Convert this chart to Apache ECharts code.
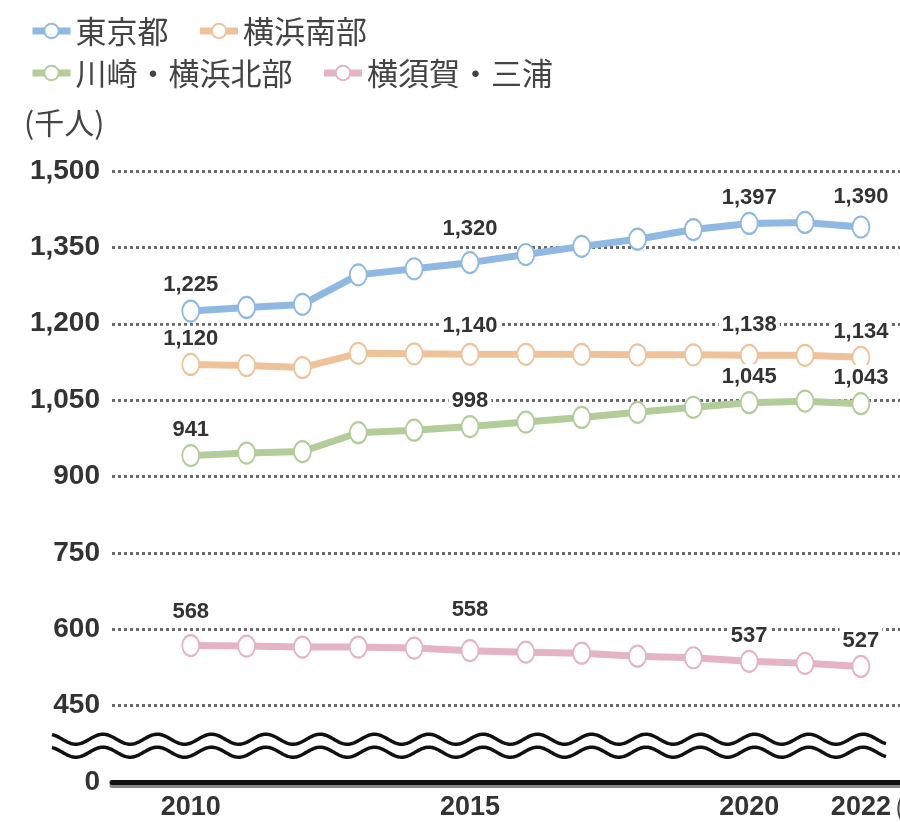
<!DOCTYPE html>
<html><head><meta charset="utf-8">
<script src="https://cdn.jsdelivr.net/npm/echarts@6/dist/echarts.min.js"></script>
<style>html,body{margin:0;padding:0;background:#fff}#chart{width:900px;height:822px}</style>
</head><body><div id="chart"></div>
<script>
const years = [2010,2011,2012,2013,2014,2015,2016,2017,2018,2019,2020,2021,2022];
const seriesNames = ['東京都','横浜南部','川崎・横浜北部','横須賀・三浦'];
const tokyo = [1225,1232,1238,1296,1308,1320,1336,1352,1366,1385,1397,1399,1390];
const yokohamaSouth = [1120,1118,1114,1142,1141,1140,1140,1140,1139,1139,1138,1138,1134];
const kawasakiNorth = [941,946,949,986,991,998,1007,1016,1026,1036,1045,1048,1043];
const yokosukaMiura = [568,567,565,565,563,558,555,553,547,544,537,533,527];
const labeledYears = [2010,2015,2020,2022];
const xTickLabels = [2010,2015,2020,2022];
const yTickValues = [300,450,600,750,900,1050,1200,1350,1500];
const yTickLabels = ['0','450','600','750','900','1,050','1,200','1,350','1,500'];
const colors = ['#8fb8e3','#eec39b','#b2cc9a','#e4b3c6'];

const seriesValues = [tokyo, yokohamaSouth, kawasakiNorth, yokosukaMiura];
// small label nudges (style only)
const labelNudge = [
  {2015: -8, 2022: -4},
  {2015: -3, 2020: -5},
  {},
  {2010: -8, 2015: -15}
];

const chart = echarts.init(document.getElementById('chart'), null, {renderer: 'canvas'});
const fmt = v => v.toLocaleString('en-US');

const series = seriesValues.map((vals, si) => ({
  name: seriesNames[si],
  type: 'line',
  symbol: 'emptyCircle',
  symbolSize: [17, 21],
  color: colors[si],
  lineStyle: {color: colors[si], width: 7},
  itemStyle: {color: colors[si], borderWidth: 3.5},
  emphasis: {disabled: true},
  label: {show: false},
  data: vals.map((v, i) => {
    const yr = years[i];
    const item = {value: [yr, v]};
    if (labeledYears.includes(yr)) {
      item.label = {
        show: true, position: 'top', distance: 1,
        offset: [0, labelNudge[si][yr] || 0],
        formatter: p => fmt(p.value[1]),
        fontFamily: 'Liberation Sans', fontSize: 22, fontWeight: 'bold', color: '#333',
        backgroundColor: '#fff', padding: [2, 3]
      };
    }
    return item;
  })
}));

const legendCommon = {
  left: 24, itemWidth: 38, itemHeight: 18, itemGap: 28,
  lineStyle: {width: 7},
  itemStyle: {borderWidth: 3},
  textStyle: {fontFamily: 'Noto Sans CJK JP', fontSize: 31, color: '#444', lineHeight: 34},
  selectedMode: false
};

chart.setOption({
  animation: false,
  backgroundColor: '#fff',
  grid: {left: 112, right: 0, top: 171, bottom: 40, containLabel: false},
  legend: [
    Object.assign({data: seriesNames.slice(0, 2), top: 9}, legendCommon),
    Object.assign({data: seriesNames.slice(2, 4), top: 51}, legendCommon)
  ],
  xAxis: {
    type: 'value', min: 2008.59, max: 2022.7,
    axisLine: {onZero: false, lineStyle: {color: '#111', width: 5, shadowColor: '#888', shadowOffsetY: 3}},
    axisTick: {show: false},
    splitLine: {show: false},
    axisLabel: {
      customValues: xTickLabels, margin: 12,
      formatter: v => String(v),
      fontFamily: 'Liberation Sans', fontSize: 27, fontWeight: 'bold', color: '#333'
    }
  },
  yAxis: {
    type: 'value', min: 300, max: 1500, interval: 150,
    axisLine: {show: false}, axisTick: {show: false},
    axisLabel: {
      margin: 12,
      formatter: v => yTickLabels[yTickValues.indexOf(v)] || '',
      fontFamily: 'Liberation Sans', fontSize: 28, fontWeight: 'bold', color: '#333'
    },
    splitLine: {show: true, lineStyle: {color: '#6a6a6a', width: 3, type: [3, 3]}}
  },
  series: series
});

// decorations: axis break waves, unit labels
const y450 = chart.convertToPixel({yAxisIndex: 0}, 450);
const y0 = chart.convertToPixel({yAxisIndex: 0}, 300);
const x2022 = chart.convertToPixel({xAxisIndex: 0}, 2022);
function wave(cy) {
  const pts = [];
  const xs = 52, xe = x2022 + 26, period = 54.3, amp = 5;
  for (let x = xs; x <= xe; x += 1) {
    pts.push([x, cy - amp * Math.cos(2 * Math.PI * (x - 103) / period)]);
  }
  return {type: 'polyline', shape: {points: pts}, style: {stroke: '#111', lineWidth: 3.5, fill: null}, z: 10};
}
const gap = y0 - y450;
chart.setOption({
  graphic: [
    wave(y450 + gap * 0.44),
    wave(y450 + gap * 0.61),
    {type: 'text', left: 24, top: 108, style: {text: '(千人)', fontFamily: 'Noto Sans CJK JP', fontSize: 30, fill: '#444'}},
    {type: 'text', x: x2022 + 34, y: y0 + 25, style: {text: '(年)', fontFamily: 'Noto Sans CJK JP', fontSize: 26, fill: '#444', verticalAlign: 'middle'}}
  ]
});
</script></body></html>
